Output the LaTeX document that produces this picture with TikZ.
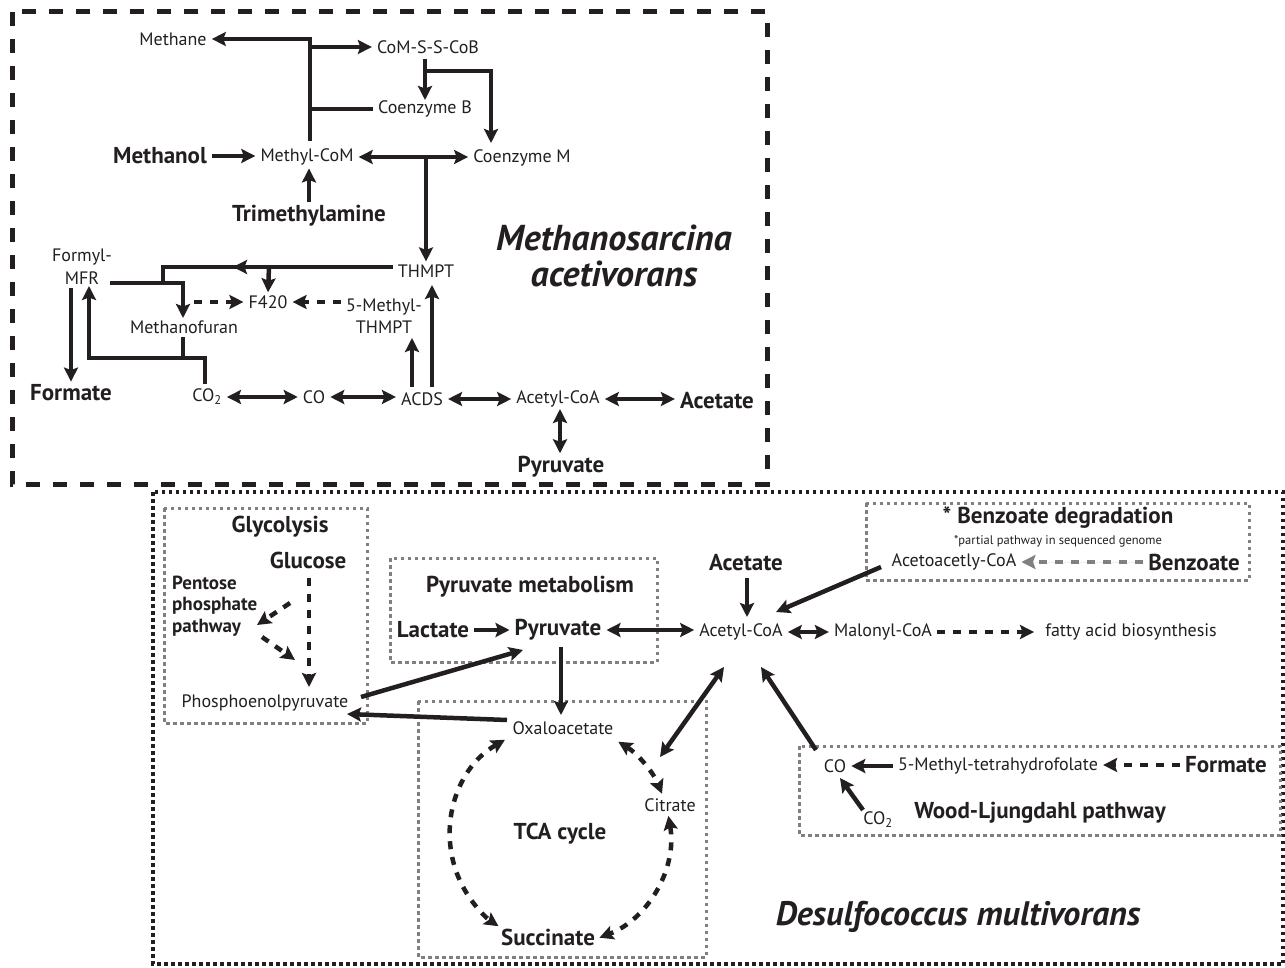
\documentclass[tikz,border=0pt]{standalone}
\usepackage{fontspec}
\setmainfont{PT Sans}
\usetikzlibrary{arrows.meta}
\definecolor{ink}{HTML}{231F20}
\definecolor{boxgray}{HTML}{808080}
\begin{document}
\begin{tikzpicture}[x=1pt,y=-1pt,
  >={Stealth[length=14pt,width=14pt,inset=2.5pt]},
  every node/.style={text=ink},
  txt/.style={font=\fontsize{18}{22}\selectfont, inner xsep=5pt, inner ysep=3pt},
  btxt/.style={font=\fontsize{23}{26}\selectfont\bfseries, inner xsep=5pt, inner ysep=3pt},
  stxt/.style={font=\fontsize{12.5}{14}\selectfont, inner sep=1pt},
  ttl/.style={font=\fontsize{36}{36}\selectfont\bfseries\itshape, align=center, inner sep=0pt},
  ln/.style={draw=ink, line width=4.5pt, line join=miter},
  dsh/.style={dash pattern=on 8pt off 8pt},
  topbox/.style={draw=ink, line width=5pt, dash pattern=on 14pt off 13pt},
  botbox/.style={draw=ink, line width=4pt, dash pattern=on 3.5pt off 3.5pt},
  gbox/.style={draw=boxgray, line width=3pt, dash pattern=on 3.5pt off 3.5pt},
]
\useasboundingbox (0,0) rectangle (1285,968);

% ---------------- frames ----------------
\draw[topbox] (12,12) rectangle (767,484);
\draw[botbox] (153,492) rectangle (1283,964);
\draw[gbox] (164,508) rectangle (367,723);
\draw[gbox] (390,558) rectangle (657,662);
\draw[gbox] (418,701) rectangle (706,957);
\draw[gbox] (866,503) rectangle (1249,580);
\draw[gbox] (799,746) rectangle (1280,835);

% ---------------- top panel nodes ----------------
\node[txt] (methane) at (173,39) {Methane};
\node[txt] (cossc) at (428,47) {CoM-S-S-CoB};
\node[txt] (cob) at (425,109) {Coenzyme B};
\node[txt] (com) at (522,158) {Coenzyme M};
\node[btxt] (methanol) at (160,156) {Methanol};
\node[txt] (mcom) at (307,157) {Methyl-CoM};
\node[btxt] (tma) at (309,216) {Trimethylamine};
\node[txt] (thmpt) at (426,271) {THMPT};
\node[txt, align=center, font=\fontsize{18}{23}\selectfont] (fmfr) at (82,267) {Formyl-\\MFR};
\node[txt] (f420) at (268,302) {F420};
\node[txt, align=center, font=\fontsize{18}{22}\selectfont] (mthmpt) at (384,316) {5-Methyl-\\THMPT};
\node[txt] (mfuran) at (184,327) {Methanofuran};
\node[btxt] (formate) at (71,393) {Formate};
\node[txt] (co2) at (207,397) {CO\textsubscript{2}};
\node[txt] (co) at (314,397) {CO};
\node[txt] (acds) at (422,399) {ACDS};
\node[txt] (acoa) at (558,399) {Acetyl-CoA};
\node[btxt] (acetate) at (717,401) {Acetate};
\node[btxt] (pyr) at (561,467) {Pyruvate};
\node[ttl] (mace) at (614,256) {Methanosarcina\\acetivorans};

% ---------------- top panel connectors ----------------
\draw[ln,->] (310,141) -- (310,39) -- (methane.east);
\draw[ln,->] (310,47) -- (cossc.west);
\draw[ln] (310,109) -- (cob.west);
\draw[ln,->] (425,59) -- (425,100);
\draw[ln,->] (425,71) -- (491,71) -- (491,143);
\draw[ln,->] (methanol.east) -- (methanol.east -| mcom.west);
\draw[ln,<->] (mcom.east) -- (mcom.east -| com.west);
\draw[ln,->] (thmpt.north |- mcom.east) -- (thmpt.north);
\draw[ln,->] (tma.north) -- (tma.north |- mcom.south);
\draw[ln] (thmpt.west |- 0,267) -- (163,267) -- (163,285);
\draw[ln,->] (300,267) -- (233,267);
\draw[ln,->] (110,283) -- (183,283) -- (183,318);
\draw[ln,->] (269,267) -- (f420.north);
\draw[ln,dsh,->] (194,302) -- (f420.west);
\draw[ln,dsh,->] (mthmpt.west |- f420.east) -- (f420.east);
\draw[ln] (183,337) -- (183,358);
\draw[ln,->] (205,384) -- (205,358) -- (89,358) -- (89,286);
\draw[ln,->] (71,288) -- (formate.north);
\draw[ln,<->] (co2.east) -- (co2.east -| co.west);
\draw[ln,<->] (co.east) -- (co.east -| acds.west);
\draw[ln,->] (412,387) -- (412,338);
\draw[ln,->] (432,387) -- (432,285);
\draw[ln,<->] (acds.east) -- (acds.east -| acoa.west);
\draw[ln,<->] (acoa.east) -- (acoa.east -| acetate.west);
\draw[ln,<->] (560,409) -- (pyr.north -| 560,0);

% ---------------- bottom panel nodes ----------------
\node[btxt] (glyc) at (280,527) {Glycolysis};
\node[btxt] (glucose) at (308,560) {Glucose};
\node[btxt, anchor=west, align=left, font=\fontsize{19}{21.5}\selectfont\bfseries, inner xsep=2pt] (ppp) at (170,606) {Pentose\\phosphate\\pathway};
\node[txt] (pep) at (265,703) {Phosphoenolpyruvate};
\node[btxt] (pyrmet) at (530,587) {Pyruvate metabolism};
\node[btxt] (lactate) at (433,630) {Lactate};
\node[btxt] (pyr2) at (558,630) {Pyruvate};
\node[btxt] (acetate2) at (746,563) {Acetate};
\node[txt] (acoa2) at (741,632) {Acetyl-CoA};
\node[txt] (malonyl) at (883,632) {Malonyl-CoA};
\node[txt] (fatty) at (1131,632) {fatty acid biosynthesis};
\node[btxt] (bdeg) at (1058,518) {* Benzoate degradation};
\node[stxt] (partial) at (1058,541) {*partial pathway in sequenced genome};
\node[txt] (acac) at (954,562) {Acetoacetly-CoA};
\node[btxt] (benzoate) at (1194,562) {Benzoate};
\node[txt] (oxa) at (563,728) {Oxaloacetate};
\node[txt] (citrate) at (670,805) {Citrate};
\node[btxt] (tca) at (560,834) {TCA cycle};
\node[btxt] (succ) at (548,937) {Succinate};
\node[txt] (co3) at (835,766) {CO};
\node[txt] (mthf) at (998,766) {5-Methyl-tetrahydrofolate};
\node[btxt] (formate2) at (1226,765) {Formate};
\node[txt] (co23) at (878,820) {CO\textsubscript{2}};
\node[btxt] (wlp) at (1040,813) {Wood-Ljungdahl pathway};
\node[ttl, font=\fontsize{34}{36}\selectfont\bfseries\itshape] (dmul) at (958,917) {Desulfococcus multivorans};

% ---------------- bottom panel connectors ----------------
\draw[ln,dsh,->] (309,578) -- (309,687);
\draw[ln,dsh,->] (290,603) -- (257,625);
\draw[ln,dsh,->] (262,637) -- (295,660);
\draw[ln,->] (361,697) -- (523,650);
\draw[ln,->] (507,720) -- (347,714);
\draw[ln,->] (lactate.east) -- (lactate.east -| pyr2.west);
\draw[ln,<->] (pyr2.east) -- (pyr2.east -| acoa2.west);
\draw[ln,->] (561,647) -- (561,715);
\draw[ln,->] (747,578) -- (747,617);
\draw[ln,->] (881,567) -- (776,612);
\draw[ln,<->] (acoa2.east) -- (acoa2.east -| malonyl.west);
\draw[ln,dsh,->,shorten >=6pt] (malonyl.east) -- (malonyl.east -| fatty.west);
\draw[ln,dsh,->,draw=boxgray,fill=boxgray] (benzoate.west) -- (benzoate.west -| acac.east);
\draw[ln,<->] (660,757) -- (724,667);
\draw[ln,->] (816,750) -- (761,667);
\draw[ln,->] (mthf.west) -- (mthf.west -| co3.east);
\draw[ln,dsh,->] (formate2.west) -- (formate2.west -| mthf.east);
\draw[ln,->] (863,810) -- (840,778);
% TCA cycle arcs (centre 560,835)
\draw[ln,dsh,<->] (560,835) ++(-120:110) arc[start angle=-120, end angle=-236, radius=110];
\draw[ln,dsh,<->] (560,835) ++(-58:110) arc[start angle=-58, end angle=-22, radius=110];
\draw[ln,dsh,<->] (560,835) ++(-10:110) arc[start angle=-10, end angle=69, radius=110];
\end{tikzpicture}
\end{document}
